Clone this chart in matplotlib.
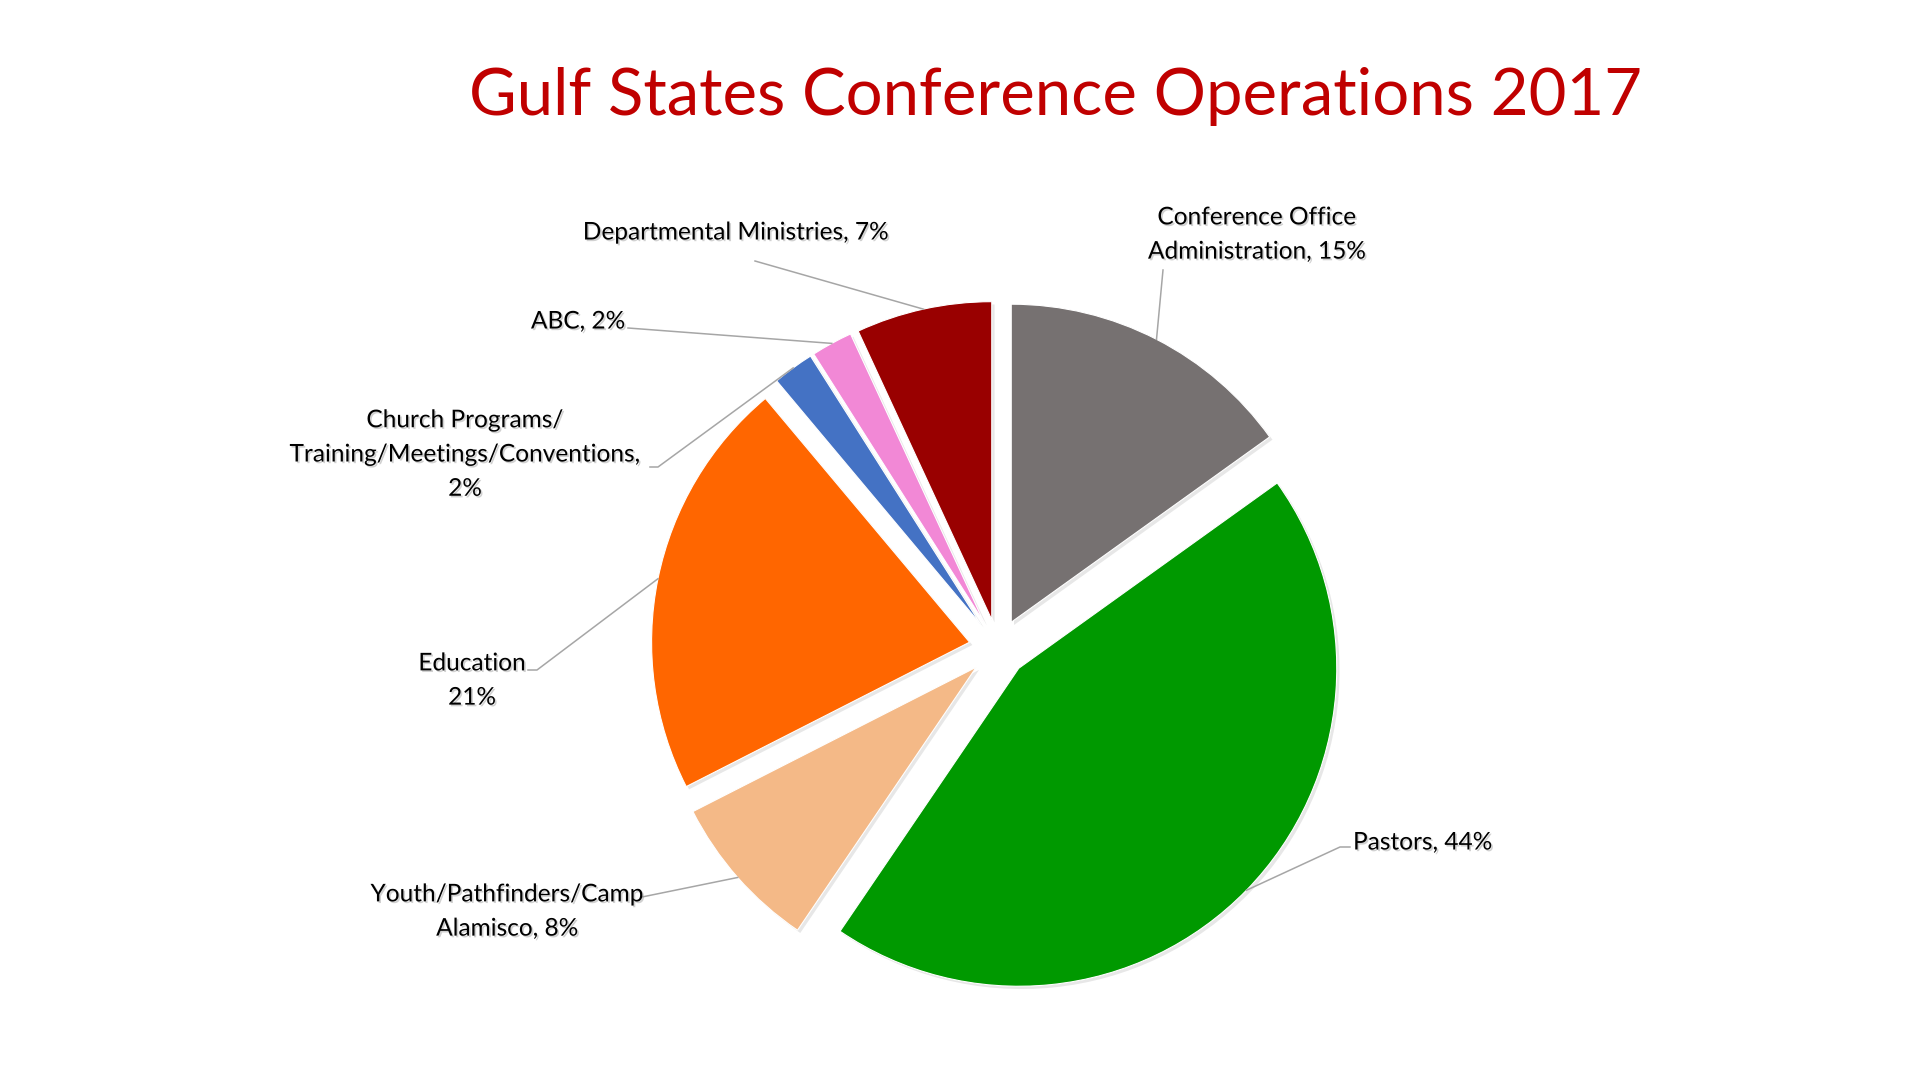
import matplotlib
matplotlib.use('Agg')
import matplotlib.pyplot as plt
import matplotlib.patheffects as pe
import numpy as np

# data
names = ['Conference Office\nAdministration', 'Pastors', 'Youth/Pathfinders/Camp\nAlamisco',
         'Education', 'Church Programs/\nTraining/Meetings/Conventions', 'ABC', 'Departmental Ministries']
seps = [', ', ', ', ', ', '\n', ',\n', ', ', ', ']
values = [15.1, 44.4, 8.0, 21.4, 2.1, 2.1, 6.9]
colors = ['#767171', '#009900', '#F4B987', '#FF6600', '#4472C4', '#F288D6', '#990000']
title = 'Gulf States Conference Operations 2017'

W, H = 1920, 1080

def Y(y):
    # image rows -> data y
    return H - y

fig = plt.figure(figsize=(19.2, 10.8), dpi=100)
ax = fig.add_axes([0, 0, 1, 1])

wedges, _ = ax.pie(values, colors=colors, explode=[29] * len(values), startangle=90,
                   counterclock=False, center=(998, Y(648)), radius=318,
                   wedgeprops=dict(edgecolor='white', linewidth=0.8))
for w in wedges:
    w.set_path_effects([pe.SimplePatchShadow(offset=(2, -2), shadow_rgbFace='#888888', alpha=0.2),
                        pe.Normal()])
ax.set_xlim(0, W)
ax.set_ylim(0, H)
ax.set_aspect('equal')
ax.axis('off')

# label layout: text position, alignment, start of leader line, elbow
label_pos = [(1257, 235, 'center'), (1353, 843, 'left'), (507, 912, 'center'), (472, 681, 'center'),
             (465, 455, 'center'), (578, 322, 'center'), (736, 233, 'center')]
leader_start = [(1163, 270), (1350, 847), (642, 897), (528, 670), (650, 467), (628, 328), (755, 261)]
elbow = [None, (1340, 847), None, (537, 670), (658, 467), None, None]

txt_fx = [pe.withSimplePatchShadow(offset=(1.2, -1.2), shadow_rgbFace='#999999', alpha=0.45)]
for i, w in enumerate(wedges):
    th = np.deg2rad((w.theta1 + w.theta2) / 2)
    ex = w.center[0] + w.r * np.cos(th)
    ey = w.center[1] + w.r * np.sin(th)
    sx, sy = leader_start[i]
    xs, ys = [sx], [Y(sy)]
    if elbow[i] is not None:
        xs.append(elbow[i][0]); ys.append(Y(elbow[i][1]))
    xs.append(ex); ys.append(ey)
    ax.plot(xs, ys, color='#A6A6A6', lw=1.1, zorder=3)
    lx, ly, ha = label_pos[i]
    s = names[i] + seps[i] + f'{round(values[i])}%'
    ax.text(lx, Y(ly), s, ha=ha, va='center', multialignment='center', fontsize=17.6,
            family='Lato', linespacing=1.78, color='black', path_effects=txt_fx, zorder=4)

ax.text(1056, Y(96), title, ha='center', va='center', fontsize=47, family='Lato', color='#C00000')

fig.savefig('out.png', dpi=100, facecolor='white')
